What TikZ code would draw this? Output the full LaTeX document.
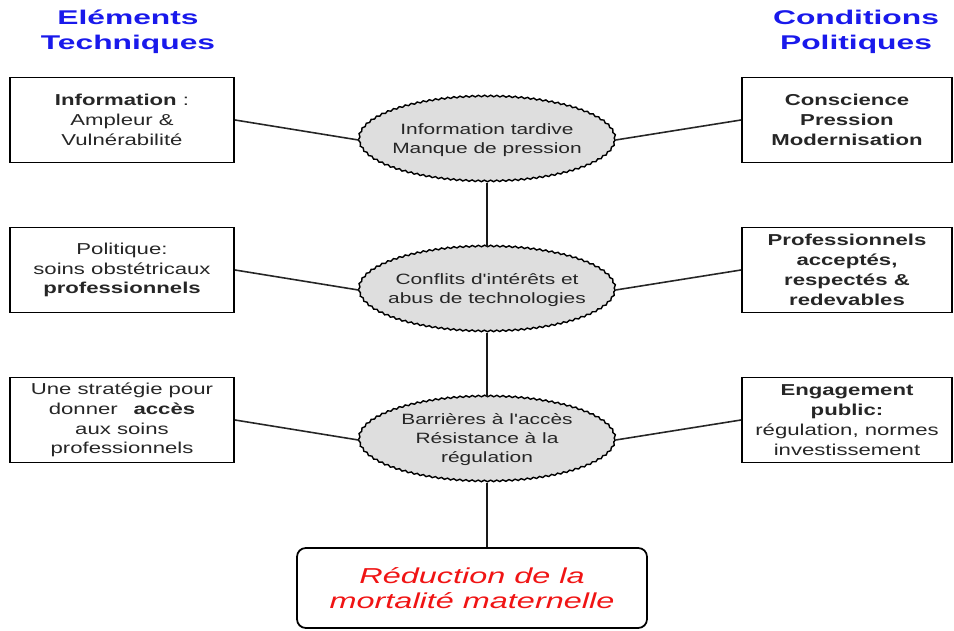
\documentclass[tikz,border=0pt]{standalone}
\usepackage{fontspec}
\setmainfont{Liberation Sans}
\newfontfamily\txtfont[FakeStretch=1.4]{Liberation Sans}
\newfontfamily\ttlfont[FakeStretch=1.6]{Liberation Sans}
\newfontfamily\goalfont[FakeStretch=1.5]{Liberation Sans}
\usetikzlibrary{arrows,shapes.geometric,decorations.pathmorphing}
\definecolor{ttlblue}{RGB}{25,25,235}
\definecolor{goalred}{RGB}{240,20,20}

\begin{document}
\begin{tikzpicture}[node distance=3cm,
    title/.style={align=center,text=ttlblue,font=\ttlfont\bfseries\fontsize{11.3}{14}\selectfont},
    tbox/.style={draw,line width=1.1pt,minimum width=4.48cm,minimum height=1.7cm,align=center,
      inner sep=1pt,text=black!85,font=\txtfont\fontsize{9}{11.3}\selectfont},
    pbox/.style={tbox,minimum width=4.2cm},
    blob/.style={ellipse,draw,fill=black!13,line width=.8pt,minimum width=5.12cm,minimum height=1.7cm,
      inner xsep=-14pt,inner ysep=0pt,align=center,text=black!85,font=\txtfont\fontsize{8.5}{10.8}\selectfont,
      decorate,decoration={snake,amplitude=.45pt,segment length=3.5pt}},
    goal/.style={draw,line width=1pt,rounded corners=5pt,minimum width=7cm,minimum height=1.6cm,
      align=center,text=goalred,font=\goalfont\itshape\fontsize{12.3}{14.2}\selectfont},
    link/.style={draw,line width=.9pt,black!85},
    stem/.style={draw,line width=1.2pt,black!90}]
  \useasboundingbox (0,0) rectangle (19.08,12.62);
  % titles
  \node [title] (lt) at (2.56,11.98) {Eléments\\Techniques};
  \node [title] (rt) at (17.12,11.98) {Conditions\\Politiques};
  % middle column
  \node [blob] (b1) at (9.74,9.82) {Information tardive\\Manque de pression};
  \node [blob,below of=b1] (b2) {Conflits d'intérêts et\\abus de technologies};
  \node [blob,below of=b2] (b3) {Barrières à l'accès\\Résistance à la\\régulation};
  \node [goal] (r) at (9.44,0.86) {Réduction de la\\mortalité maternelle};
  % left column
  \node [tbox] (t1) at (2.44,10.22) {\textbf{Information} :\\Ampleur \&\\Vulnérabilité};
  \node [tbox,below of=t1] (t2) {Politique:\\soins obstétricaux\\\textbf{professionnels}};
  \node [tbox,below of=t2] (t3) {Une stratégie pour\\donner\quad\textbf{accès}\\aux soins\\professionnels};
  % right column
  \node [pbox] (p1) at (16.94,10.22) {\textbf{Conscience}\\\textbf{Pression}\\\textbf{Modernisation}};
  \node [pbox,below of=p1] (p2) {\textbf{Professionnels}\\\textbf{acceptés,}\\\textbf{respectés \&}\\\textbf{redevables}};
  \node [pbox,below of=p2] (p3) {\textbf{Engagement}\\\textbf{public:}\\régulation, normes\\investissement};
  \path [link] (t1.east) edge (b1.west)
               (t2.east) edge (b2.west)
               (t3.east) edge (b3.west)
               (b1.east) edge (p1.west)
               (b2.east) edge (p2.west)
               (b3.east) edge (p3.west);
  \path [stem] (b1.south) edge (b2.north)
               (b2.south) edge (b3.north)
               (b3.south) edge (b3.south |- r.north);
\end{tikzpicture}
\end{document}
